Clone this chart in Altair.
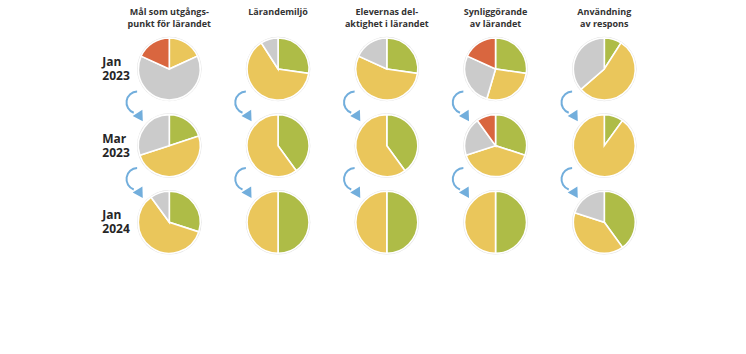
import math
import altair as alt
import pandas as pd

# ---- data ----
areas = [
    "Mål som utgångs-\npunkt för lärandet",
    "Lärandemiljö",
    "Elevernas del-\naktighet i lärandet",
    "Synliggörande\nav lärandet",
    "Användning\nav respons",
]
periods = ["Jan\n2023", "Mar\n2023", "Jan\n2024"]
categories = ["Uppnått", "Delvis", "Ej påbörjat", "Saknas"]
colors = ["#AEBC47", "#EAC65B", "#CBCBCB", "#D9663F"]

# counts per area (green, yellow, gray, red)
jan2023 = [[0, 2, 7, 2], [3, 7, 1, 0], [3, 6, 2, 0], [3, 3, 3, 2], [1, 6, 4, 0]]
mar2023 = [[2, 5, 3, 0], [4, 6, 0, 0], [4, 6, 0, 0], [3, 4, 2, 1], [1, 9, 0, 0]]
jan2024 = [[3, 6, 1, 0], [5, 5, 0, 0], [5, 5, 0, 0], [5, 5, 0, 0], [4, 4, 2, 0]]
period_counts = [jan2023, mar2023, jan2024]

# ---- build tables ----
rows = []
centers = []
for j, pc in enumerate(period_counts):
    for i, counts in enumerate(pc):
        total = sum(counts)
        acc = 0
        centers.append({"col": i, "row": j})
        for k, c in enumerate(counts):
            if c > 0:
                rows.append({"col": i, "row": j, "cat": categories[k],
                             "start": acc / total, "end": (acc + c) / total})
            acc += c
pies = pd.DataFrame(rows)
cent = pd.DataFrame(centers)
arrows = cent[cent["row"] > 0]
heads = pd.DataFrame({"col": list(range(len(areas))), "row": [0] * len(areas), "label": areas})
rlabels = pd.DataFrame({"col": [0] * len(periods), "row": list(range(len(periods))), "label": periods})

W, H = 746, 354
xs = alt.Scale(domain=[-1.5568, 5.3030], nice=False, zero=False)
ys = alt.Scale(domain=[-0.9002, 3.7182], nice=False, zero=False, reverse=True)
X = alt.X("col:Q", scale=xs, axis=None)
Y = alt.Y("row:Q", scale=ys, axis=None)

halo = alt.Chart(cent).mark_arc(radius=32.3, theta=0, theta2=2 * math.pi,
                                color="#E2E2E2").encode(x=X, y=Y)

pie = alt.Chart(pies).mark_arc(radius=31, stroke="white", strokeWidth=1.6).encode(
    x=X, y=Y,
    theta=alt.Theta("start:Q", scale=alt.Scale(domain=[0, 1], range=[0, 2 * math.pi])),
    theta2="end:Q",
    color=alt.Color("cat:N", scale=alt.Scale(domain=categories, range=colors), legend=None),
)

arrow_arc = alt.Chart(arrows).mark_arc(
    radius=12, radius2=10, theta=math.radians(200), theta2=math.radians(358),
    xOffset=-31.8, yOffset=-43.2, color="#72AEDC").encode(x=X, y=Y)

arrow_head = alt.Chart(arrows).mark_point(
    shape="triangle", filled=True, size=130, angle=148, opacity=1,
    xOffset=-30, yOffset=-30, color="#72AEDC").encode(x=X, y=Y)

head_text = alt.Chart(heads).mark_text(
    font="Open Sans", fontWeight="bold", fontSize=9, lineHeight=12,
    lineBreak="\n", baseline="top", align="center", dy=-61, color="#333333"
).encode(x=X, y=Y, text="label:N")

row_text = alt.Chart(rlabels).mark_text(
    font="Open Sans", fontWeight="bold", fontSize=12, lineHeight=14,
    lineBreak="\n", baseline="middle", align="left", dx=-67, dy=-7, color="#262626"
).encode(x=X, y=Y, text="label:N")

chart = alt.layer(halo, pie, arrow_arc, arrow_head, head_text, row_text).properties(
    width=W, height=H, autosize=alt.AutoSizeParams(type="none"), padding=0,
    background="white"
).configure_view(stroke=None)

chart.save("out.html", embed_options={"renderer": "svg", "actions": False})
